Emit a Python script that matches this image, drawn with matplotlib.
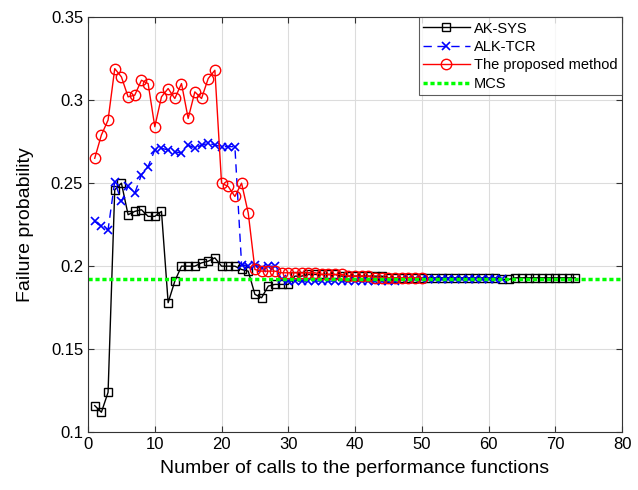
import matplotlib
matplotlib.use("Agg")
import matplotlib.pyplot as plt

plt.rcParams['font.family'] = ['Liberation Sans', 'DejaVu Sans']

# AK-SYS (black squares), x = 1..73
ak_sys = [0.116, 0.112, 0.124, 0.246, 0.250, 0.231, 0.233, 0.234, 0.230, 0.230,
          0.233, 0.178, 0.191, 0.200, 0.200, 0.200, 0.202, 0.203, 0.205, 0.200,
          0.200, 0.200, 0.198, 0.197, 0.183, 0.181, 0.188, 0.189, 0.189, 0.189,
          0.194, 0.194, 0.195, 0.195, 0.195, 0.195, 0.195, 0.194, 0.194, 0.194,
          0.194, 0.194, 0.194, 0.194, 0.193, 0.193, 0.193, 0.193, 0.193, 0.193,
          0.193, 0.193, 0.193, 0.193, 0.193, 0.193, 0.193, 0.193, 0.193, 0.193,
          0.193, 0.192, 0.192, 0.193, 0.193, 0.193, 0.193, 0.193, 0.193, 0.193,
          0.193, 0.193, 0.193]

# ALK-TCR (blue crosses), x = 1..62
alk_tcr = [0.227, 0.224, 0.222, 0.251, 0.239, 0.248, 0.244, 0.255, 0.260, 0.270,
           0.271, 0.270, 0.269, 0.268, 0.273, 0.271, 0.273, 0.274, 0.273, 0.272,
           0.272, 0.272, 0.201, 0.200, 0.201, 0.199, 0.200, 0.200, 0.192, 0.191,
           0.191, 0.191, 0.191, 0.191, 0.191, 0.191, 0.191, 0.191, 0.191, 0.191,
           0.191, 0.191, 0.191, 0.191, 0.191, 0.191, 0.192, 0.192, 0.192, 0.192,
           0.192, 0.192, 0.192, 0.192, 0.192, 0.192, 0.192, 0.192, 0.192, 0.192,
           0.192, 0.192]

# The proposed method (red circles), x = 1..50
proposed = [0.265, 0.279, 0.288, 0.319, 0.314, 0.302, 0.303, 0.312, 0.310, 0.284,
            0.302, 0.307, 0.301, 0.310, 0.289, 0.305, 0.301, 0.313, 0.318, 0.250,
            0.248, 0.242, 0.250, 0.232, 0.198, 0.197, 0.197, 0.197, 0.196, 0.196,
            0.196, 0.196, 0.196, 0.196, 0.195, 0.195, 0.195, 0.195, 0.194, 0.194,
            0.194, 0.194, 0.193, 0.193, 0.193, 0.193, 0.193, 0.193, 0.193, 0.193]

mcs_value = 0.192

x_ak = list(range(1, len(ak_sys) + 1))
x_alk = list(range(1, len(alk_tcr) + 1))
x_prop = list(range(1, len(proposed) + 1))

fig = plt.figure(figsize=(6.38, 4.90), dpi=100)
ax = fig.add_axes([0.138, 0.118, 0.837, 0.847])

ax.plot(x_ak, ak_sys, color='black', lw=1.0, marker='s', markersize=6,
        markerfacecolor='none', markeredgewidth=1.0, label='AK-SYS')
ax.plot(x_alk, alk_tcr, color='blue', lw=1.0, ls=(0, (6, 4)), marker='x', markersize=6,
        markeredgewidth=1.2, label='ALK-TCR')
ax.plot(x_prop, proposed, color='red', lw=1.0, marker='o', markersize=7.5,
        markerfacecolor='none', markeredgewidth=1.0, label='The proposed method')
ax.axhline(mcs_value, color='#00ff00', lw=2.5, ls=(0, (1.2, 0.8)), label='MCS')

ax.set_xlim(0, 80)
ax.set_ylim(0.1, 0.35)
ax.set_xticks(range(0, 81, 10))
ax.set_yticks([0.1, 0.15, 0.2, 0.25, 0.3, 0.35])
ax.set_yticklabels(['0.1', '0.15', '0.2', '0.25', '0.3', '0.35'])
ax.grid(True, color='#dcdcdc', lw=0.8)
ax.set_axisbelow(True)
ax.tick_params(direction='in', labelsize=12, top=True, right=True, length=4, color='#333333')
for s in ax.spines.values():
    s.set_color('#333333')
    s.set_linewidth(0.8)

ax.set_xlabel('Number of calls to the performance functions', fontsize=14, labelpad=6)
ax.set_ylabel('Failure probability', fontsize=14, labelpad=12)

leg = ax.legend(loc='upper right', fontsize=10.5, frameon=True, fancybox=False,
                edgecolor='#333333', borderaxespad=0.0, handlelength=3.2,
                borderpad=0.3, labelspacing=0.3, handletextpad=0.3)
leg.get_frame().set_linewidth(0.8)

fig.savefig('out.png', dpi=100)
